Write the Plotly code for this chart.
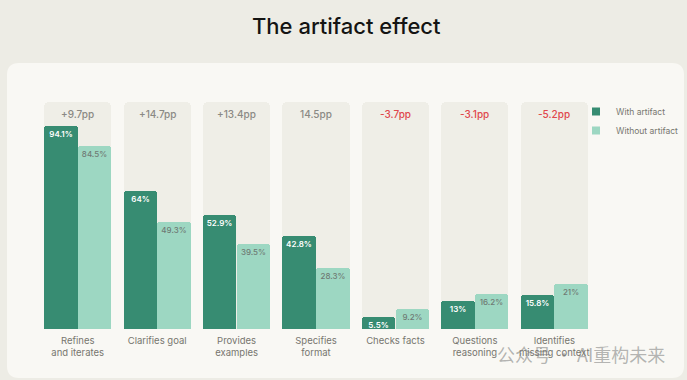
import plotly.graph_objects as go

# ---------------- data ----------------
categories = [
    "Refines<br>and iterates",
    "Clarifies goal",
    "Provides<br>examples",
    "Specifies<br>format",
    "Checks facts",
    "Questions<br>reasoning",
    "Identifies<br>missing context",
]
with_artifact = [94.1, 64, 52.9, 42.8, 5.5, 13, 15.8]
without_artifact = [84.5, 49.3, 39.5, 28.3, 9.2, 16.2, 21]
delta_labels = ["+9.7pp", "+14.7pp", "+13.4pp", "14.5pp", "-3.7pp", "-3.1pp", "-5.2pp"]
series_names = ["With artifact", "Without artifact"]
title_text = "The artifact effect"
watermark_text = "公众号 · AI重构未来"

# ---------------- style ----------------
W, H = 687, 380
ML, MR, MT, MB = 38, 93, 102, 51
PW, PH = W - ML - MR, H - MT - MB
Y_TOP = 105  # top of axis range / height of the grey group panels

PAGE_BG = "#edece5"
CARD_BG = "#f9f8f4"
PANEL_BG = "#efeee7"
DARK = "#378c72"
LIGHT = "#9dd7c2"
GREY_TXT = "#8a8984"
RED_TXT = "#e0474c"
FONT = "Inter"


def px_x(px):
    return (px - ML) / PW


def px_y(py):
    return (H - MB - py) / PH


def fmt(v):
    return f"{v:g}%"


fig = go.Figure()

# grey panels behind each group
fig.add_trace(go.Bar(
    x=categories, y=[Y_TOP] * len(categories),
    width=0.845, offset=-0.4225,
    marker=dict(color=PANEL_BG, cornerradius=5, line=dict(width=0)),
    hoverinfo="skip", showlegend=False,
))

fig.add_trace(go.Bar(
    x=categories, y=with_artifact, name=series_names[0],
    width=0.42, offset=-0.4225, legendgroup="w", showlegend=False,
    marker=dict(color=DARK, cornerradius=3, line=dict(width=0)),
    text=[fmt(v) for v in with_artifact], textposition="inside",
    insidetextanchor="end", textangle=0, constraintext="none",
    textfont=dict(family=FONT, size=8, color="white", weight=600),
))
fig.add_trace(go.Bar(
    x=categories, y=without_artifact, name=series_names[1],
    width=0.42, offset=0.0025, legendgroup="wo", showlegend=False,
    marker=dict(color=LIGHT, cornerradius=3, line=dict(width=0)),
    text=[fmt(v) for v in without_artifact], textposition="inside",
    insidetextanchor="end", textangle=0, constraintext="none",
    textfont=dict(family=FONT, size=8, color="#6f7a74", weight=500),
))

# legend entries
for name, col, grp in [(series_names[0], DARK, "w"), (series_names[1], LIGHT, "wo")]:
    fig.add_trace(go.Scatter(
        x=[None], y=[None], mode="markers", name=name, legendgroup=grp,
        marker=dict(symbol="square", size=8, color=col),
    ))

annotations = []
for cat, lab in zip(categories, delta_labels):
    annotations.append(dict(
        x=cat, xref="x", y=px_y(114), yref="paper", text=lab, showarrow=False,
        font=dict(family=FONT, size=10, color=RED_TXT if lab.startswith("-") else GREY_TXT,
                  weight=500),
        xanchor="center", yanchor="middle",
    ))

annotations.append(dict(
    x=px_x(346), xref="paper", y=px_y(26), yref="paper", xanchor="center", yanchor="middle",
    text=title_text, showarrow=False,
    font=dict(family=FONT, size=22, color="#141413", weight=500),
))
annotations.append(dict(
    x=px_x(581), xref="paper", y=px_y(354), yref="paper", xanchor="center", yanchor="middle",
    text=watermark_text, showarrow=False,
    font=dict(family="Noto Sans CJK SC", size=18, color="rgba(120,120,120,0.55)"),
))

# card rounded rectangle (page decoration)
x0, x1 = px_x(7), px_x(684)
y0, y1 = px_y(378), px_y(63)
rx, ry = 12 / PW, 12 / PH
card_path = (
    f"M{x0 + rx},{y1} L{x1 - rx},{y1} Q{x1},{y1} {x1},{y1 - ry} "
    f"L{x1},{y0 + ry} Q{x1},{y0} {x1 - rx},{y0} L{x0 + rx},{y0} "
    f"Q{x0},{y0} {x0},{y0 + ry} L{x0},{y1 - ry} Q{x0},{y1} {x0 + rx},{y1} Z"
)

fig.update_layout(
    width=W, height=H,
    margin=dict(l=ML, r=MR, t=MT, b=MB, autoexpand=False),
    paper_bgcolor=PAGE_BG, plot_bgcolor="rgba(0,0,0,0)",
    barmode="overlay", bargap=0,
    font=dict(family=FONT, color=GREY_TXT),
    showlegend=True,
    legend=dict(
        x=px_x(576), xanchor="left", y=px_y(97), yanchor="top",
        bgcolor="rgba(0,0,0,0)", borderwidth=0, tracegroupgap=0,
        font=dict(family=FONT, size=8.5, color="#77766f"),
        itemclick=False, itemdoubleclick=False,
    ),
    xaxis=dict(
        showgrid=False, zeroline=False, showline=False, ticks="",
        tickfont=dict(family=FONT, size=9.5, color="#77766f"),
        ticklabelstandoff=4,
        fixedrange=True,
    ),
    yaxis=dict(
        range=[0, Y_TOP], visible=False, showgrid=False, zeroline=False, fixedrange=True,
    ),
    shapes=[dict(
        type="path", path=card_path, xref="paper", yref="paper",
        fillcolor=CARD_BG, line=dict(width=0), layer="below",
    )],
    annotations=annotations,
)

fig.write_html(
    "out.html",
    config={"displayModeBar": False},
    post_script="document.body.style.margin='0';document.body.style.background='%s';" % PAGE_BG,
)
